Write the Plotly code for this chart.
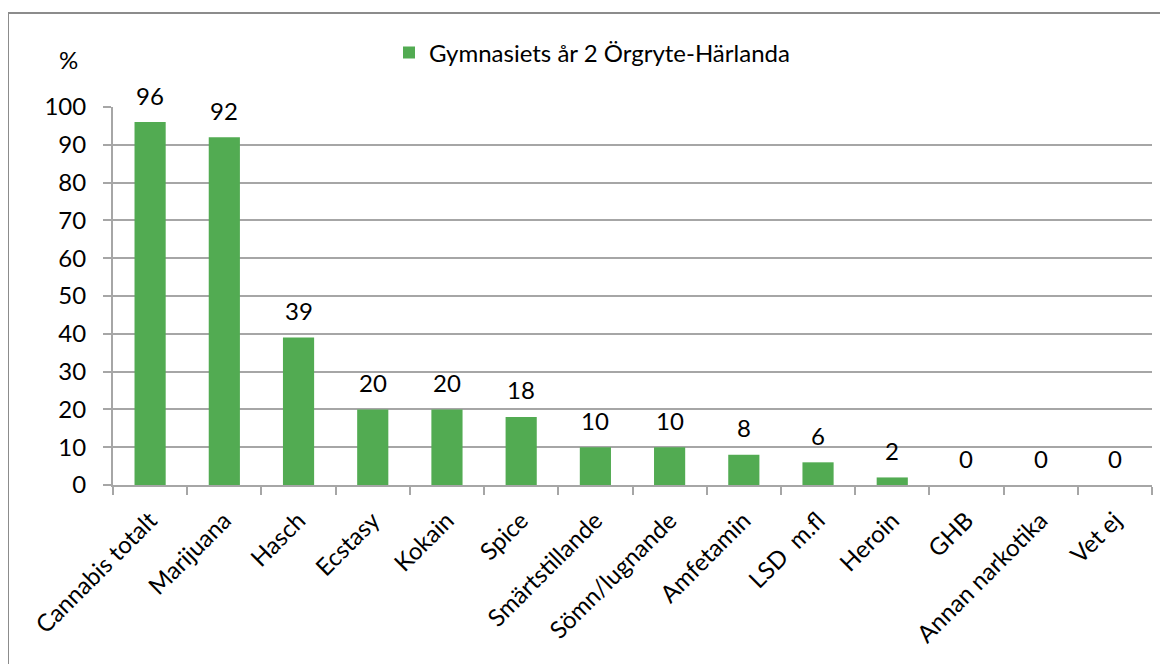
import plotly.graph_objects as go

categories = ["Cannabis totalt", "Marijuana", "Hasch", "Ecstasy", "Kokain", "Spice",
              "Smärtstillande", "Sömn/lugnande", "Amfetamin", "LSD  m.fl", "Heroin",
              "GHB", "Annan narkotika", "Vet ej"]
values = [96, 92, 39, 20, 20, 18, 10, 10, 8, 6, 2, 0, 0, 0]
series_name = "Gymnasiets år 2 Örgryte-Härlanda"
y_ticks = [0, 10, 20, 30, 40, 50, 60, 70, 80, 90, 100]

FONT = "Lato, Carlito, Calibri, sans-serif"
FS = 24
GREEN = "#52AB52"
GRID = "#A6A6A6"

# page offset of the plot div (body margin)
OFF = 8
W, H = 1168 - OFF, 664 - OFF
L, T = 113 - OFF, 107 - OFF
R = W - (1152 - OFF)
B = H - (485 - OFF)
pw, ph = W - L - R, H - T - B

def px(x):
    return (x - OFF - L) / pw

def py(y):
    return (H - B - (y - OFF)) / ph

fig = go.Figure()
fig.add_trace(go.Bar(
    x=categories, y=values, name=series_name,
    marker=dict(color=GREEN, line=dict(width=0)),
    cliponaxis=False, showlegend=True,
))

annotations = [dict(x=c, y=v, xref="x", yref="y", text=str(v), showarrow=False,
                    xanchor="center", yanchor="middle", yshift=27,
                    font=dict(family=FONT, size=FS, color="black"))
               for c, v in zip(categories, values)]
annotations.append(dict(text="%", xref="paper", yref="paper", x=px(68), y=py(60),
                        showarrow=False, xanchor="center", yanchor="middle",
                        font=dict(family=FONT, size=FS, color="black")))

fig.update_layout(
    width=W, height=H,
    margin=dict(l=L, r=R, t=T, b=B, autoexpand=False),
    paper_bgcolor="white", plot_bgcolor="white",
    font=dict(family=FONT, size=FS, color="black"),
    bargap=0.58,
    showlegend=True,
    legend=dict(x=px(592), y=py(53), xanchor="center", yanchor="middle",
                orientation="h", font=dict(family=FONT, size=FS, color="black"),
                bgcolor="rgba(0,0,0,0)", itemwidth=30),
    xaxis=dict(type="category", tickangle=-45, showgrid=False,
               showline=True, linecolor=GRID, linewidth=2,
               ticks="outside", ticklen=8, tickcolor=GRID, tickwidth=2,
               tickson="boundaries", ticklabelstandoff=10,
               tickfont=dict(family=FONT, size=FS, color="black"),
               range=[-0.5, len(categories) - 0.5], fixedrange=True),
    yaxis=dict(range=[0, 100], tickvals=y_ticks, showgrid=True, gridcolor=GRID, gridwidth=2,
               showline=True, linecolor=GRID, linewidth=2,
               ticks="outside", ticklen=8, tickcolor=GRID, tickwidth=2,
               zeroline=False, ticklabelstandoff=12,
               tickfont=dict(family=FONT, size=FS, color="black"), fixedrange=True),
    shapes=[dict(type="rect", xref="paper", yref="paper",
                 x0=px(8), x1=px(1200), y0=py(700), y1=py(13),
                 line=dict(color="#8C8C8C", width=2), layer="below")],
    annotations=annotations,
)

fig.write_html("out.html")
